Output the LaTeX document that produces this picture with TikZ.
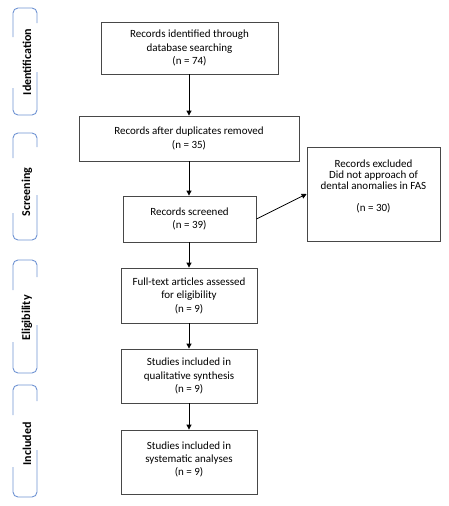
\documentclass[tikz,border=0pt]{standalone}
\usepackage{fontspec}
\setmainfont{Carlito}
\usetikzlibrary{arrows.meta}
\definecolor{phaseblue}{HTML}{6F93D3}
\definecolor{boxgray}{HTML}{484848}
\begin{document}
\begin{tikzpicture}[x=1pt,y=-1pt,
  stepbox/.style={draw=boxgray,line width=0.8pt,inner sep=0pt,align=center,
    font=\fontsize{11}{13.5}\selectfont},
  phase/.style={draw=phaseblue,line width=0.9pt,rounded corners=5pt},
  phasetext/.style={rotate=90,font=\fontsize{12}{13}\selectfont\bfseries,inner sep=0pt},
  arr/.style={line width=0.8pt,-{Triangle[length=5pt,width=5pt]}}]
\useasboundingbox (0,0) rectangle (449,506);

% phase boxes
\draw[phase] (13,37) -- (13,8) -- (37,8) -- (37,23);
\draw[phase] (37,72) -- (37,115) -- (13,115) -- (13,88);
\node[phasetext] (pid) at (27,62) {Identification};

\draw[phase] (13,158) -- (13,133) -- (37,133) -- (37,147);
\draw[phase] (37,195) -- (37,240) -- (13,240) -- (13,213);
\node[phasetext] (pscr) at (27,192) {Screening};

\draw[phase] (13,290) -- (13,260) -- (37,260) -- (37,277);
\draw[phase] (37,325) -- (37,373) -- (13,373) -- (13,342);
\node[phasetext] (pel) at (27,318) {Eligibility};

\draw[phase] (13,415) -- (13,385) -- (37,385) -- (37,401);
\draw[phase] (37,450) -- (37,497) -- (13,497) -- (13,467);
\node[phasetext] (pinc) at (27,444) {Included};

% main boxes
\node[stepbox,minimum width=177pt,minimum height=52pt] (b1) at (189.5,48)
  {Records identified through\\database searching\\(n = 74)};
\node[stepbox,minimum width=220pt,minimum height=45pt] (b2) at (189,138.5)
  {Records after duplicates removed\\(n = 35)};
\node[stepbox,minimum width=133pt,minimum height=46pt] (b3) at (189.5,219)
  {Records screened\\(n = 39)};
\node[stepbox,minimum width=136pt,minimum height=55pt] (b4) at (189,295.5)
  {Full-text articles assessed\\for eligibility\\(n = 9)};
\node[stepbox,minimum width=136pt,minimum height=54pt] (b5) at (189,376)
  {Studies included in\\qualitative synthesis\\(n = 9)};
\node[stepbox,minimum width=136pt,minimum height=64pt] (b6) at (189,462) {};
\node[align=center,inner sep=0pt,font=\fontsize{11}{13}\selectfont] (b6t) at (189,459)
  {Studies included in\\systematic analyses\\(n = 9)};

\node[stepbox,minimum width=133pt,minimum height=94pt] (ex) at (373.5,194) {};
\node[align=center,inner sep=0pt,font=\fontsize{11}{11}\selectfont] (ext) at (373.5,186.5)
  {Records excluded\\Did not approach of\\dental anomalies in FAS\\[11pt](n = 30)};

% connectors
\draw[arr] (b1.south -| 189,0) -- (b2.north -| 189,0);
\draw[arr] (b2.south -| 189,0) -- (b3.north -| 189,0);
\draw[arr] (b3.south -| 189,0) -- (b4.north -| 189,0);
\draw[arr] (b4.south -| 189,0) -- (b5.north -| 189,0);
\draw[arr] (b5.south -| 189,0) -- (b6.north -| 189,0);
\draw[arr] (b3.east) -- (ex.west);
\end{tikzpicture}
\end{document}
